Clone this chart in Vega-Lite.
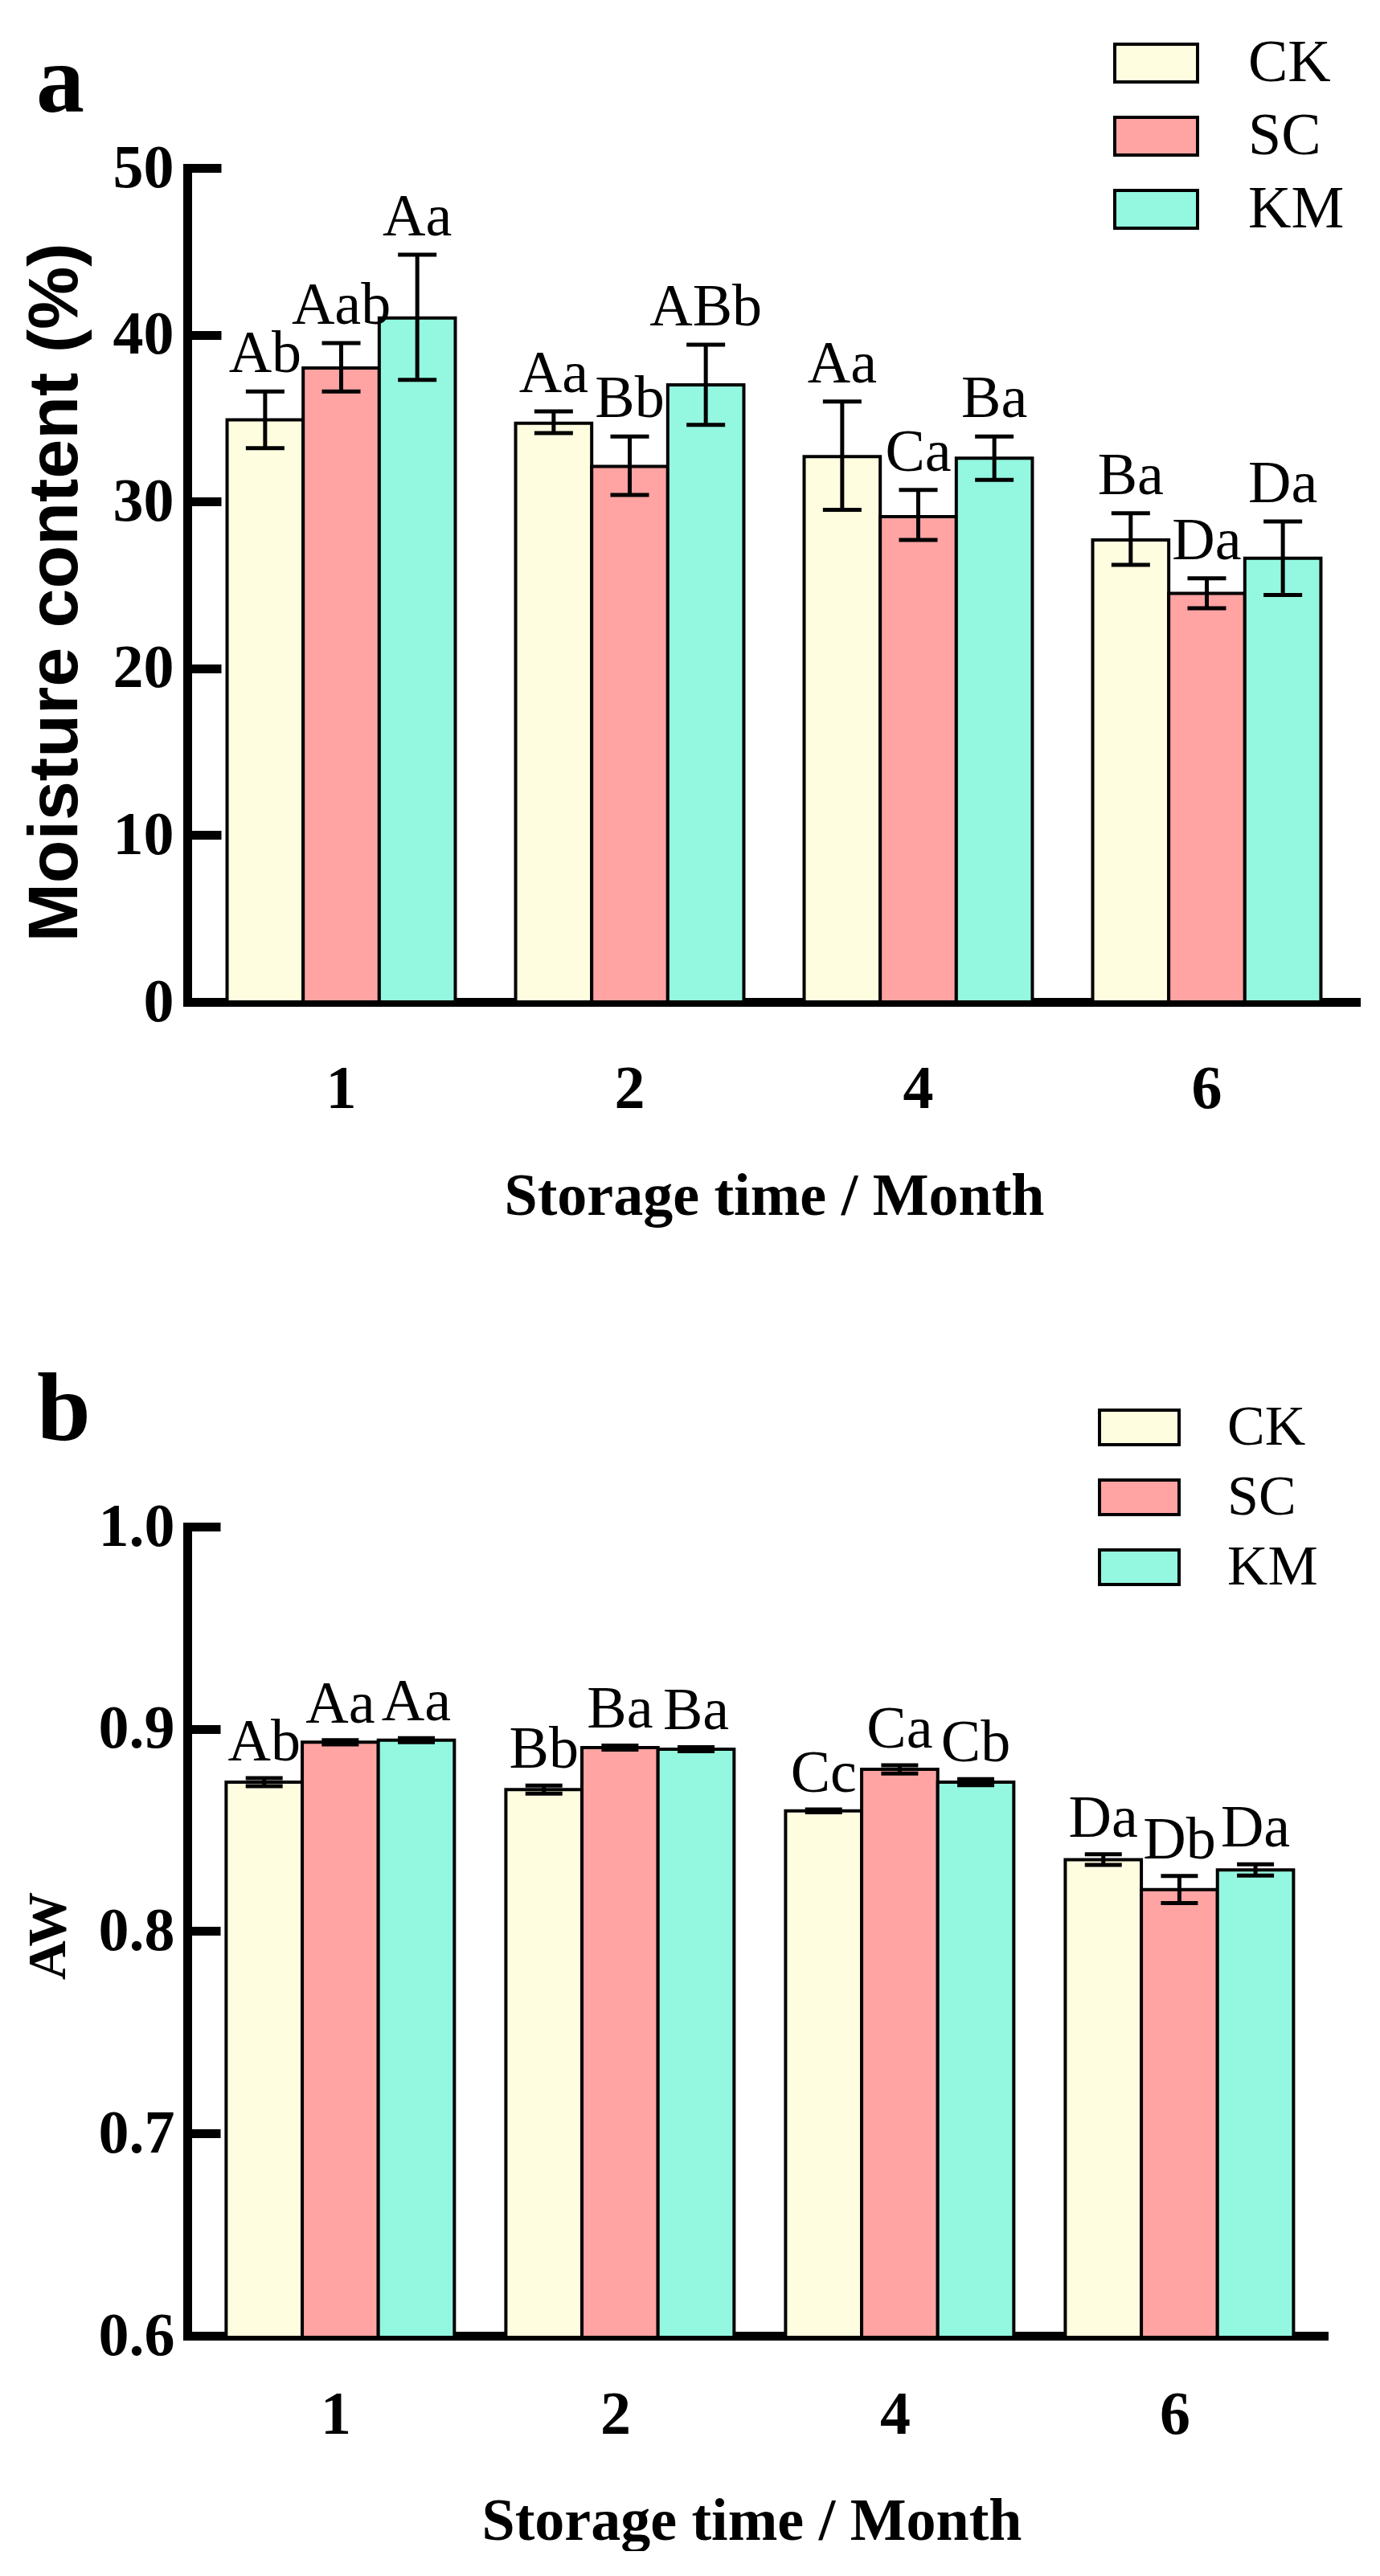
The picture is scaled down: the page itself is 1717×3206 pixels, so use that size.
{
  "$schema": "https://vega.github.io/schema/vega-lite/v6.json",
  "background": "white",
  "padding": {"left": 24, "top": 25, "right": 0, "bottom": 0},
  "autosize": {"type": "pad"},
  "bounds": "flush",
  "spacing": 653,
  "resolve": {"scale": {"color": "independent"}, "legend": {"color": "independent"}},
  "config": {
    "view": {"stroke": null},
    "axis": {"domainColor": "black", "tickColor": "black", "labelColor": "black", "titleColor": "black", "grid": false, "domainCap": "square"},
    "legend": {"padding": 0}
  },
  "datasets": {
    "moist": [
      {"month": "1", "group": "CK", "mean": 34.9, "lo": 33.2, "hi": 36.6, "label": "Ab"},
      {"month": "1", "group": "SC", "mean": 38.0, "lo": 36.6, "hi": 39.5, "label": "Aab"},
      {"month": "1", "group": "KM", "mean": 41.0, "lo": 37.3, "hi": 44.8, "label": "Aa"},
      {"month": "2", "group": "CK", "mean": 34.7, "lo": 34.1, "hi": 35.4, "label": "Aa"},
      {"month": "2", "group": "SC", "mean": 32.1, "lo": 30.4, "hi": 33.9, "label": "Bb"},
      {"month": "2", "group": "KM", "mean": 37.0, "lo": 34.6, "hi": 39.4, "label": "ABb"},
      {"month": "4", "group": "CK", "mean": 32.7, "lo": 29.5, "hi": 36.0, "label": "Aa"},
      {"month": "4", "group": "SC", "mean": 29.1, "lo": 27.7, "hi": 30.7, "label": "Ca"},
      {"month": "4", "group": "KM", "mean": 32.6, "lo": 31.3, "hi": 33.9, "label": "Ba"},
      {"month": "6", "group": "CK", "mean": 27.7, "lo": 26.2, "hi": 29.3, "label": "Ba"},
      {"month": "6", "group": "SC", "mean": 24.5, "lo": 23.6, "hi": 25.4, "label": "Da"},
      {"month": "6", "group": "KM", "mean": 26.6, "lo": 24.4, "hi": 28.8, "label": "Da"}
    ],
    "aw": [
      {"month": "1", "group": "CK", "mean": 0.8737, "lo": 0.8717, "hi": 0.8757, "label": "Ab"},
      {"month": "1", "group": "SC", "mean": 0.8934, "lo": 0.8924, "hi": 0.8944, "label": "Aa"},
      {"month": "1", "group": "KM", "mean": 0.8944, "lo": 0.8934, "hi": 0.8954, "label": "Aa"},
      {"month": "2", "group": "CK", "mean": 0.870, "lo": 0.868, "hi": 0.872, "label": "Bb"},
      {"month": "2", "group": "SC", "mean": 0.8908, "lo": 0.8898, "hi": 0.8918, "label": "Ba"},
      {"month": "2", "group": "KM", "mean": 0.890, "lo": 0.889, "hi": 0.891, "label": "Ba"},
      {"month": "4", "group": "CK", "mean": 0.8595, "lo": 0.8588, "hi": 0.8602, "label": "Cc"},
      {"month": "4", "group": "SC", "mean": 0.880, "lo": 0.878, "hi": 0.882, "label": "Ca"},
      {"month": "4", "group": "KM", "mean": 0.8737, "lo": 0.8722, "hi": 0.8752, "label": "Cb"},
      {"month": "6", "group": "CK", "mean": 0.8354, "lo": 0.8328, "hi": 0.838, "label": "Da"},
      {"month": "6", "group": "SC", "mean": 0.8206, "lo": 0.8139, "hi": 0.8273, "label": "Db"},
      {"month": "6", "group": "KM", "mean": 0.8303, "lo": 0.8275, "hi": 0.8331, "label": "Da"}
    ]
  },
  "vconcat": [
    {
      "width": 1460,
      "height": 1038,
      "title": {"text": "a", "anchor": "start", "frame": "group", "dx": -188, "dy": 132, "offset": -102, "fontSize": 120, "font": "Liberation Serif", "fontWeight": "bold", "baseline": "alphabetic", "color": "black"},
      "data": {"name": "moist"},
      "encoding": {
        "x": {"field": "month", "type": "nominal", "sort": ["1", "2", "4", "6"],
          "scale": {"paddingInner": 0.209, "paddingOuter": 0.138},
          "axis": {"ticks": false, "labelAngle": 0, "labelFont": "Liberation Serif", "labelFontWeight": "bold", "labelFontSize": 76, "labelPadding": 131, "labelBaseline": "alphabetic", "domainWidth": 11,
            "title": "Storage time / Month", "titleFont": "Liberation Serif", "titleFontWeight": "bold", "titleFontSize": 74, "titleX": 730, "titleY": 264, "titleBaseline": "alphabetic", "titleAlign": "center"}},
        "xOffset": {"field": "group", "type": "nominal", "sort": ["CK", "SC", "KM"]}
      },
      "layer": [
        {
          "mark": {"type": "bar", "stroke": "black", "strokeWidth": 4},
          "encoding": {
            "y": {"field": "mean", "type": "quantitative", "scale": {"domain": [0, 50]},
              "axis": {"values": [0, 10, 20, 30, 40, 50], "tickSize": -42, "tickWidth": 11, "domainWidth": 11, "labelPadding": 59, "labelFont": "Liberation Serif", "labelFontWeight": "bold", "labelFontSize": 76, "labelBaseline": "middle",
                "title": "Moisture content (%)", "titleFont": "Liberation Sans", "titleFontWeight": "bold", "titleFontSize": 88, "titleX": -164, "titleY": 528, "titleAngle": -90, "titleAlign": "center", "titleBaseline": "middle"}},
            "color": {"field": "group", "type": "nominal", "scale": {"domain": ["CK", "SC", "KM"], "range": ["#FFFDE0", "#FFA3A3", "#94F7DF"]},
              "legend": {"orient": "none", "legendX": 1152, "legendY": -184, "direction": "vertical", "title": null, "symbolType": "M-1,-0.456H1V0.456H-1Z", "symbolSize": 10609, "symbolStrokeColor": "black", "symbolStrokeWidth": 4, "symbolOpacity": 1, "labelFont": "Liberation Serif", "labelFontSize": 74, "labelColor": "black", "labelOffset": 61, "rowPadding": -11}}
          }
        },
        {
          "mark": {"type": "rule", "strokeWidth": 5, "color": "black"},
          "encoding": {"y": {"field": "lo", "type": "quantitative"}, "y2": {"field": "hi"}}
        },
        {
          "mark": {"type": "tick", "thickness": 5, "size": 48, "color": "black", "opacity": 1},
          "encoding": {"y": {"field": "lo", "type": "quantitative"}}
        },
        {
          "mark": {"type": "tick", "thickness": 5, "size": 48, "color": "black", "opacity": 1},
          "encoding": {"y": {"field": "hi", "type": "quantitative"}}
        },
        {
          "mark": {"type": "text", "dy": -24, "baseline": "alphabetic", "align": "center", "font": "Liberation Serif", "fontSize": 74, "color": "black"},
          "encoding": {"y": {"field": "hi", "type": "quantitative"}, "text": {"field": "label"}}
        }
      ]
    },
    {
      "width": 1414,
      "height": 1007,
      "title": {"text": "b", "anchor": "start", "frame": "group", "dx": -187, "dy": 134, "offset": -53, "fontSize": 120, "font": "Liberation Serif", "fontWeight": "bold", "baseline": "alphabetic", "color": "black"},
      "data": {"name": "aw"},
      "encoding": {
        "x": {"field": "month", "type": "nominal", "sort": ["1", "2", "4", "6"],
          "scale": {"paddingInner": 0.215, "paddingOuter": 0.139},
          "axis": {"ticks": false, "labelAngle": 0, "labelFont": "Liberation Serif", "labelFontWeight": "bold", "labelFontSize": 76, "labelPadding": 121, "labelBaseline": "alphabetic", "domainWidth": 11,
            "title": "Storage time / Month", "titleFont": "Liberation Serif", "titleFontWeight": "bold", "titleFontSize": 74, "titleX": 702, "titleY": 253, "titleBaseline": "alphabetic", "titleAlign": "center"}},
        "xOffset": {"field": "group", "type": "nominal", "sort": ["CK", "SC", "KM"]}
      },
      "layer": [
        {
          "mark": {"type": "bar", "stroke": "black", "strokeWidth": 4, "clip": true},
          "encoding": {
            "y": {"field": "mean", "type": "quantitative", "scale": {"domain": [0.6, 1.0], "zero": false},
              "axis": {"values": [0.6, 0.7, 0.8, 0.9, 1.0], "format": ".1f", "tickSize": -41, "tickWidth": 11, "domainWidth": 11, "labelPadding": 57, "labelFont": "Liberation Serif", "labelFontWeight": "bold", "labelFontSize": 76, "labelBaseline": "middle",
                "title": "AW", "titleFont": "Liberation Serif", "titleFontWeight": "bold", "titleFontSize": 68, "titleX": -173, "titleY": 509, "titleAngle": -90, "titleAlign": "center", "titleBaseline": "middle"}},
            "color": {"field": "group", "type": "nominal", "scale": {"domain": ["CK", "SC", "KM"], "range": ["#FFFDE0", "#FFA3A3", "#94F7DF"]},
              "legend": {"orient": "none", "legendX": 1133, "legendY": -175, "direction": "vertical", "title": null, "symbolType": "M-1,-0.434H1V0.434H-1Z", "symbolSize": 9801, "symbolStrokeColor": "black", "symbolStrokeWidth": 4, "symbolOpacity": 1, "labelFont": "Liberation Serif", "labelFontSize": 70, "labelColor": "black", "labelOffset": 58, "rowPadding": -11}}
          }
        },
        {
          "mark": {"type": "rule", "strokeWidth": 5, "color": "black"},
          "encoding": {"y": {"field": "lo", "type": "quantitative"}, "y2": {"field": "hi"}}
        },
        {
          "mark": {"type": "tick", "thickness": 5, "size": 46, "color": "black", "opacity": 1},
          "encoding": {"y": {"field": "lo", "type": "quantitative"}}
        },
        {
          "mark": {"type": "tick", "thickness": 5, "size": 46, "color": "black", "opacity": 1},
          "encoding": {"y": {"field": "hi", "type": "quantitative"}}
        },
        {
          "mark": {"type": "text", "dy": -22, "baseline": "alphabetic", "align": "center", "font": "Liberation Serif", "fontSize": 74, "color": "black"},
          "encoding": {"y": {"field": "hi", "type": "quantitative"}, "text": {"field": "label"}}
        }
      ]
    }
  ]
}
